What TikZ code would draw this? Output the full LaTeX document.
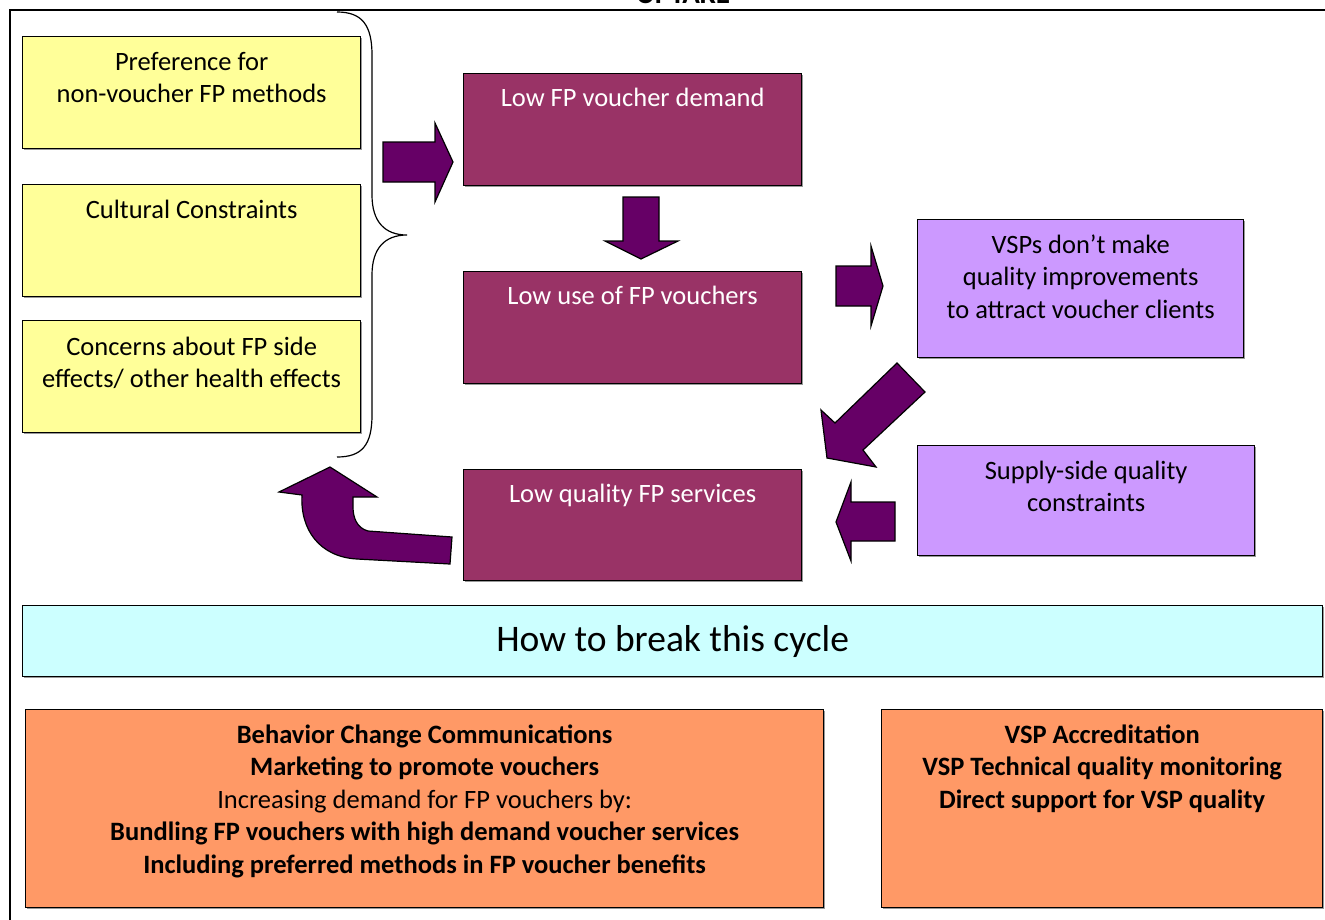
\documentclass[tikz,border=0pt]{standalone}
\usepackage{fontspec}
\setmainfont{Carlito}
\usetikzlibrary{calc}
\definecolor{ylw}{HTML}{FFFF99}
\definecolor{plum}{HTML}{993366}
\definecolor{arrowc}{HTML}{660066}
\definecolor{lav}{HTML}{CC99FF}
\definecolor{aqua}{HTML}{CCFFFF}
\definecolor{orng}{HTML}{FF9966}
\tikzset{
  box/.style={draw=black, line width=1.3pt, anchor=north west, inner sep=0pt,
    preaction={fill=black!40, transform canvas={shift={(1.5pt,-1.5pt)}}}},
  txt/.style={align=center, font=\fontsize{26.5}{32.5}\selectfont, inner sep=0pt, anchor=base},
  wtxt/.style={txt, text=white},
  fat/.style={fill=arrowc, draw=black, line width=1.2pt, line join=miter},
}
\begin{document}
\begin{tikzpicture}[x=1pt, y=-1pt]
\useasboundingbox (0,0) rectangle (1325,919);
\fill[white] (0,0) rectangle (1325,919);

% outer frame and its heading
\draw[line width=2pt] (10,940) -- (10,10) -- (1340,10);
\node[font=\fontsize{29}{34}\selectfont\bfseries, anchor=base, inner sep=0pt] (head) at (683,3) {UPTAKE};

% demand-side causes (the base anchor sits on the last line)
\node[box, fill=ylw, minimum width=338pt, minimum height=112pt] (y1) at (22,36) {};
\node[txt] (y1t) at ($(y1.north)+(0,66.5)$) {Preference for\\non-voucher FP methods};
\node[box, fill=ylw, minimum width=338pt, minimum height=112pt] (y2) at (22,184) {};
\node[txt] (y2t) at ($(y2.north)+(0,34)$) {Cultural Constraints};
\node[box, fill=ylw, minimum width=338pt, minimum height=112pt] (y3) at (22,320) {};
\node[txt] (y3t) at ($(y3.north)+(0,67.5)$) {Concerns about FP side\\effects/ other health effects};

% brace grouping the causes
\coordinate (bt) at (337,12);
\coordinate (bm) at (407,235);
\coordinate (bb) at (337,457);
\draw[line width=1.2pt] (bt) .. controls (362,12) and (372,25) .. (372,55)
  -- (372,195) .. controls (372,222) and (385,235) .. (bm)
  .. controls (385,235) and (372,248) .. (372,275)
  -- (372,415) .. controls (372,445) and (362,457) .. (bb);

% vicious cycle boxes
\node[box, fill=plum, minimum width=338pt, minimum height=112pt] (p1) at (463,73) {};
\node[wtxt] (p1t) at ($(p1.north)+(0,33)$) {Low FP voucher demand};
\node[box, fill=plum, minimum width=338pt, minimum height=112pt] (p2) at (463,271) {};
\node[wtxt] (p2t) at ($(p2.north)+(0,33)$) {Low use of FP vouchers};
\node[box, fill=plum, minimum width=338pt, minimum height=111pt] (p3) at (463,469) {};
\node[wtxt] (p3t) at ($(p3.north)+(0,33)$) {Low quality FP services};

\node[box, fill=lav, minimum width=326pt, minimum height=138pt] (l1) at (917,219) {};
\node[txt] (l1t) at ($(l1.north)+(0,99)$) {VSPs don’t make\\quality improvements\\to attract voucher clients};
\node[box, fill=lav, minimum width=337pt, minimum height=110pt] (l2) at (917,445) {};
\node[txt] (l2t) at ($(l2.north)+(0,66.5)$) {Supply-side quality\\constraints};

% block arrows
\draw[fat] (383,142) -- (435,142) -- (435,123) -- (453,162) -- (435,202) -- (435,182) -- (383,182) -- cycle;
\draw[fat] (623,197) -- (659,197) -- (659,241) -- (678,241) -- (641,259) -- (605,241) -- (623,241) -- cycle;
\draw[fat] (836,266) -- (871,266) -- (871,246) -- (883,286) -- (871,326) -- (871,306) -- (836,306) -- cycle;
\draw[fat] (897,363) -- (925,392) -- (863,450) -- (876,467) -- (827,458) -- (821,410) -- (835,423) -- cycle;
\draw[fat] (895,502) -- (851,502) -- (851,482) -- (836,522) -- (851,561) -- (851,541) -- (895,541) -- cycle;
\draw[fat] (452,537) -- (368,531) .. controls (357,528) and (353,518) .. (353,507)
  -- (353,497) -- (377,497) -- (330,467) -- (279,492) -- (302,495)
  .. controls (300,530) and (320,557) .. (357,559) -- (450,564) -- cycle;

% remedies
\node[box, fill=aqua, minimum width=1300pt, minimum height=71pt] (c) at (22,605) {};
\node[font=\fontsize{37.5}{44}\selectfont] (ct) at (c.center) {How to break this cycle};

\node[box, fill=orng, minimum width=798pt, minimum height=198pt] (o1) at (25,709) {};
\node[txt] (o1t) at ($(o1.north)+(0,164)$)
  {\textbf{Behavior Change Communications}\\\textbf{Marketing to promote vouchers}\\Increasing demand for FP vouchers by:\\\textbf{Bundling FP vouchers with high demand voucher services}\\\textbf{Including preferred methods in FP voucher benefits}};
\node[box, fill=orng, minimum width=441pt, minimum height=198pt] (o2) at (881,709) {};
\node[txt, font=\fontsize{26.5}{32.5}\selectfont\bfseries] (o2t) at ($(o2.north)+(0,99)$)
  {VSP Accreditation\\VSP Technical quality monitoring\\Direct support for VSP quality};
\end{tikzpicture}
\end{document}
